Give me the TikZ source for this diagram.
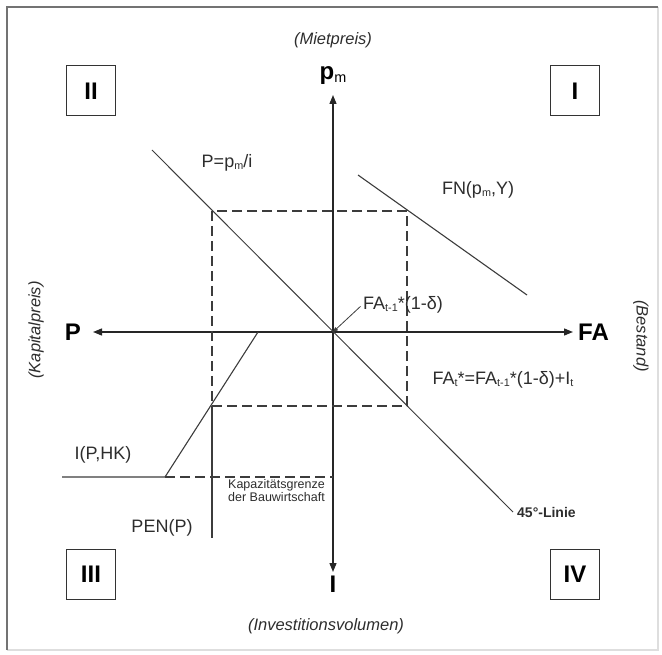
\documentclass[tikz,border=0pt]{standalone}
\usepackage{fontspec}
\setmainfont{Liberation Sans}
\usepackage{graphicx}
\usepackage{tikz}
\usetikzlibrary{arrows.meta, positioning}
\definecolor{linegray}{RGB}{60,60,60}
\definecolor{textgray}{RGB}{45,45,45}
\definecolor{framedark}{RGB}{115,115,115}
\definecolor{framelight}{RGB}{222,222,222}
\newcommand{\idx}[1]{\raisebox{-0.12em}{\scalebox{0.6}{#1}}}

\begin{document}
\begin{tikzpicture}[x=1pt, y=-1pt, node distance=4pt,
    lab/.style={inner sep=1pt, text=textgray, font=\fontsize{18}{21}\selectfont},
    axlab/.style={inner sep=1pt, font=\fontsize{24}{26}\selectfont\bfseries},
    note/.style={inner sep=1pt, text=textgray, font=\fontsize{16.5}{18}\selectfont\itshape},
    quad/.style={draw=black!80, line width=1pt, minimum width=49pt, minimum height=50pt, inner sep=0pt, font=\fontsize{24}{26}\selectfont\bfseries},
    curve/.style={draw=linegray, line width=1.1pt},
    guide/.style={draw=linegray, line width=1.1pt, dash pattern=on 10pt off 5pt},
    axis/.style={draw=black!85, line width=1.3pt, -{Triangle[length=9pt, width=7pt]}}]
    \useasboundingbox (0,0) rectangle (662,655);
    % frame
    \draw[framelight, line width=2pt] (658,7) -- (658,650) -- (7,650);
    \draw[framedark, line width=2pt] (7,650) -- (7,7) -- (658,7);

    % axes
    \coordinate (o) at (333,332);
    \coordinate (pend) at (93,332);
    \coordinate (faend) at (573,332);
    \coordinate (pmend) at (333,95);
    \coordinate (iend) at (333,572);
    \draw[axis] (o) -- (pend);
    \draw[axis] (o) -- (faend);
    \draw[axis] (o) -- (pmend);
    \draw[axis] (o) -- (iend);
    \node[axlab, left=11pt of pend] (plab) {P};
    \node[axlab, right=4pt of faend] (falab) {FA};
    \node[axlab, above=9pt of pmend] (pmlab) {p\idx{\mdseries m}};
    \node[axlab, below=3pt of iend] (ilab) {I};
    \node[note] (miet) at (333,40) {(Mietpreis)};
    \node[note] (invest) at (326,626) {(Investitionsvolumen)};
    \node[note, rotate=90] (kapp) at (36,330) {(Kapitalpreis)};
    \node[note, rotate=-90] (bestand) at (641,336) {(Bestand)};

    % quadrants
    \node[quad] (q1) at (575,91) {I};
    \node[quad] (q2) at (91,91) {II};
    \node[quad] (q3) at (91,574) {III};
    \node[quad] (q4) at (575,574) {IV};

    % curves
    \coordinate (diagtop) at (152,150);
    \coordinate (diagend) at (513,512);
    \coordinate (fntop) at (358,175);
    \coordinate (fnend) at (527,295);
    \coordinate (rtl) at (212,211);
    \coordinate (rbr) at (407,406);
    \coordinate (itop) at (258,332);
    \coordinate (ikink) at (165,477);
    \coordinate (ileft) at (62,477);
    \coordinate (icap) at (333,477);
    \coordinate (penbot) at (212,538);
    \draw[curve, line width=1pt] (diagtop) -- (diagend);
    \draw[curve] (fntop) -- (fnend);
    \draw[guide] (rtl) rectangle (rbr);
    \draw[curve] (itop) -- (ikink) -- (ileft);
    \draw[guide] (ikink) -- (icap);
    \draw[curve] (rtl |- rbr) -- (penbot);

    % labels
    \node[lab] (pdef) at (227,163) {P=p\idx{m}/i};
    \node[lab] (fn) at (478,190) {FN(p\idx{m},Y)};
    \node[lab, anchor=west] (lagfa) at (362,305) {FA\idx{t-1}*(1-δ)};
    \node[lab] (faeq) at (503,380) {FA\idx{t}*=FA\idx{t-1}*(1-δ)+I\idx{t}};
    \node[lab] (ifun) at (103,455) {I(P,HK)};
    \node[lab] (pen) at (162,528) {PEN(P)};
    \node[lab, anchor=north west, align=left, font=\fontsize{12.5}{13.5}\selectfont] (kapgr) at (227,478) {Kapazitätsgrenze\\der Bauwirtschaft};
    \node[inner sep=1pt, text=textgray, font=\fontsize{14}{16}\selectfont\bfseries, right=3pt of diagend] (linie) {45°-Linie};
    \draw[linegray, line width=0.8pt, shorten <=2pt, -{Triangle[length=5pt, width=4pt]}] (lagfa.west) -- (o);
\end{tikzpicture}
\end{document}
